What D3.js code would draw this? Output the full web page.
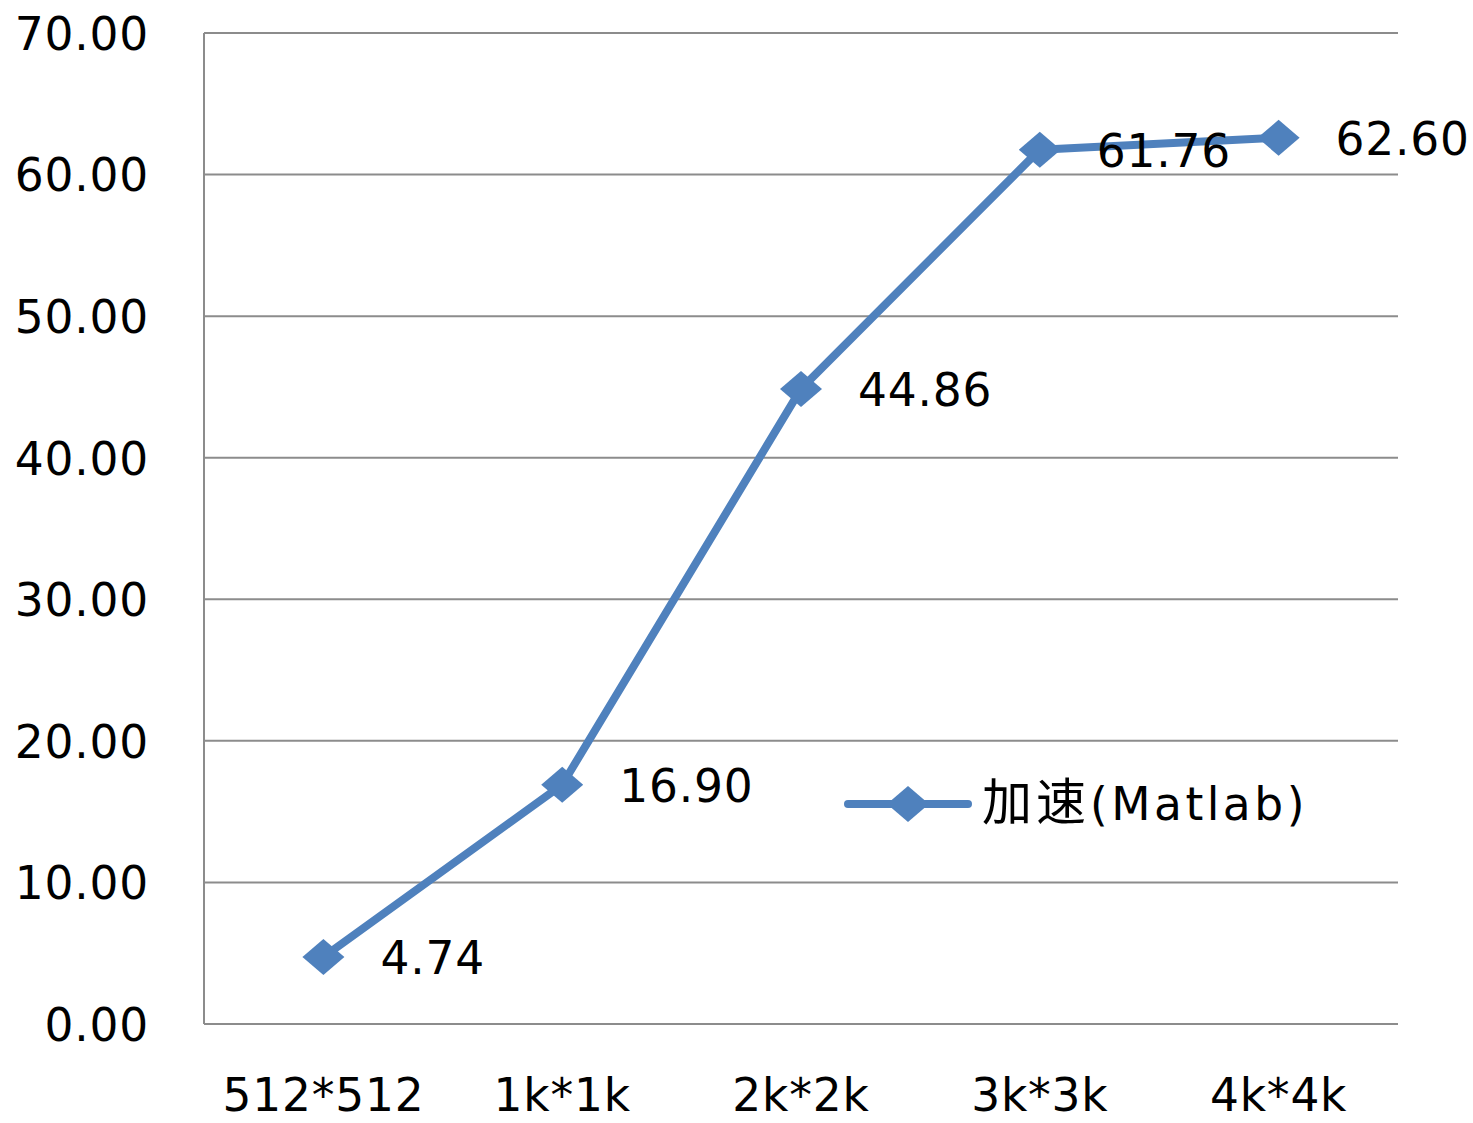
<!DOCTYPE html>
<html>
<head>
<meta charset="utf-8">
<script src="https://cdn.jsdelivr.net/npm/d3@7"></script>
<style>
  html, body { margin: 0; padding: 0; background: #fff; }
  svg { display: block; }
</style>
</head>
<body>
<svg id="chart" width="1473" height="1123"></svg>
<script>
// Image sizes tested and the measured speed-up
const categories = ["512*512", "1k*1k", "2k*2k", "3k*3k", "4k*4k"];
const speedup = [4.74, 16.90, 44.86, 61.76, 62.60];
const yTicks = [0, 10, 20, 30, 40, 50, 60, 70];
const seriesName = "加速(Matlab)";

const svg = d3.select("#chart");
const margin = { left: 204, right: 1398, top: 33, bottom: 1024 };
const font = "'DejaVu Sans', Verdana, sans-serif";
const fontSize = 45.5;
const spacing = 0.8;
const lineColor = "#4f81bd";
const gridColor = "#8c8c8c";

const x = d3.scaleBand().domain(categories).range([margin.left, margin.right]);
const y = d3.scaleLinear().domain([0, 70]).range([margin.bottom, margin.top]);

// horizontal gridlines
svg.append("g")
  .selectAll("line")
  .data(yTicks)
  .join("line")
  .attr("x1", margin.left).attr("x2", margin.right)
  .attr("y1", d => y(d)).attr("y2", d => y(d))
  .attr("stroke", gridColor).attr("stroke-width", 2);

// value axis line
svg.append("line")
  .attr("x1", margin.left).attr("x2", margin.left)
  .attr("y1", y(70)).attr("y2", y(0))
  .attr("stroke", gridColor).attr("stroke-width", 2);

// y tick labels
const yAxis = d3.axisLeft(y).tickValues(yTicks).tickFormat(d3.format(".2f")).tickSize(0).tickPadding(55);
const gy = svg.append("g").attr("transform", `translate(${margin.left},0)`).call(yAxis);
gy.select(".domain").remove();
gy.selectAll("text")
  .attr("font-family", font).attr("font-size", fontSize).attr("fill", "#000")
  .attr("letter-spacing", spacing)
  .attr("dy", "0.36em");

// category labels
const xAxis = d3.axisBottom(x).tickSize(0).tickPadding(55);
const gx = svg.append("g").attr("transform", `translate(0,${margin.bottom})`).call(xAxis);
gx.select(".domain").remove();
gx.selectAll("text")
  .attr("font-family", font).attr("font-size", fontSize).attr("fill", "#000")
  .attr("letter-spacing", spacing);

const cx = d => x(d) + x.bandwidth() / 2;
const pts = categories.map((c, i) => ({ c, v: speedup[i] }));

// series line
svg.append("path")
  .datum(pts)
  .attr("fill", "none")
  .attr("stroke", lineColor)
  .attr("stroke-width", 8)
  .attr("stroke-linejoin", "round")
  .attr("d", d3.line().x(d => cx(d.c)).y(d => y(d.v)));

// diamond markers
const diamond = (px, py, hw, hh) => `M${px - hw},${py}L${px},${py - hh}L${px + hw},${py}L${px},${py + hh}Z`;
svg.append("g")
  .selectAll("path")
  .data(pts)
  .join("path")
  .attr("d", d => diamond(cx(d.c), y(d.v), 21, 18))
  .attr("fill", lineColor);

// data labels
svg.append("g")
  .selectAll("text")
  .data(pts)
  .join("text")
  .attr("x", d => cx(d.c) + 57)
  .attr("y", d => y(d.v))
  .attr("dy", "0.38em")
  .attr("font-family", font).attr("font-size", fontSize).attr("fill", "#000")
  .attr("letter-spacing", spacing)
  .text(d => d3.format(".2f")(d.v));

// legend
const lg = svg.append("g").attr("transform", "translate(848,804)");
lg.append("line").attr("x1", 0).attr("x2", 120).attr("y1", 0).attr("y2", 0)
  .attr("stroke", lineColor).attr("stroke-width", 8).attr("stroke-linecap", "round");
lg.append("path").attr("d", diamond(60, 0, 21, 18)).attr("fill", lineColor);
const lt = lg.append("text")
  .attr("x", 134).attr("y", 0).attr("dy", "0.36em")
  .attr("font-family", font)
  .attr("font-size", fontSize).attr("fill", "#000");
const cjkPart = seriesName.slice(0, 2);
const latinPart = seriesName.slice(2);
lt.append("tspan")
  .attr("font-family", "'Noto Sans CJK SC', sans-serif")
  .attr("font-size", 50)
  .attr("letter-spacing", 4)
  .text(cjkPart);
lt.append("tspan")
  .attr("letter-spacing", 3.5)
  .text(latinPart);
</script>
</body>
</html>
